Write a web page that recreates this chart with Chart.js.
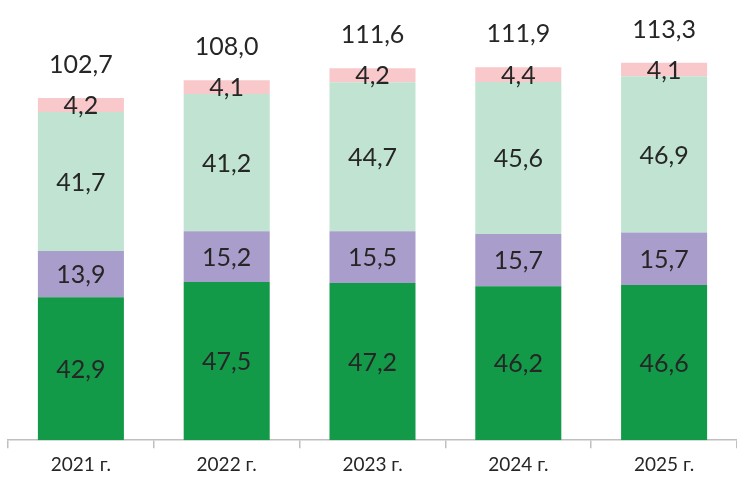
<!DOCTYPE html>
<html>
<head>
<meta charset="utf-8">
<script src="https://cdn.jsdelivr.net/npm/chart.js@4"></script>
<style>
  html, body { margin: 0; padding: 0; background: #fff; }
  #wrap { width: 737px; height: 481px; }
</style>
</head>
<body>
<div id="wrap"><canvas id="myChartBar"></canvas></div>
<script>
const years = ['2021 г.', '2022 г.', '2023 г.', '2024 г.', '2025 г.'];
const seriesA = [42.9, 47.5, 47.2, 46.2, 46.6]; // dark green
const seriesB = [13.9, 15.2, 15.5, 15.7, 15.7]; // purple
const seriesC = [41.7, 41.2, 44.7, 45.6, 46.9]; // light green
const seriesD = [4.2, 4.1, 4.2, 4.4, 4.1];      // pink
const totals = [102.7, 108.0, 111.6, 111.9, 113.3];

const fmt = v => v.toFixed(1).replace('.', ',');
const FONT = 'Lato, "Open Sans", sans-serif';

// draws the values inside the segments and the totals on top
const labelsPlugin = {
    id: 'labels',
    afterDatasetsDraw(chart) {
        const ctx = chart.ctx;
        ctx.save();
        ctx.fillStyle = '#262626';
        ctx.font = '25px ' + FONT;
        ctx.textAlign = 'center';
        ctx.textBaseline = 'middle';
        chart.data.datasets.forEach((ds, i) => {
            chart.getDatasetMeta(i).data.forEach((bar, j) => {
                const mid = (bar.y + bar.base) / 2;
                ctx.fillText(fmt(ds.data[j]), bar.x, mid + 1);
            });
        });
        const top = chart.getDatasetMeta(chart.data.datasets.length - 1).data;
        top.forEach((bar, j) => {
            ctx.fillText(fmt(totals[j]), bar.x, bar.y - 33);
        });
        ctx.restore();
    }
};

const ctx = document.getElementById('myChartBar').getContext('2d');
new Chart(ctx, {
    type: 'bar',
    data: {
        labels: years,
        datasets: [
            { data: seriesA, backgroundColor: '#139a48' },
            { data: seriesB, backgroundColor: '#a99dcb' },
            { data: seriesC, backgroundColor: '#c0e3d2' },
            { data: seriesD, backgroundColor: '#f8c8ca' }
        ]
    },
    options: {
        responsive: true,
        maintainAspectRatio: false,
        animation: false,
        layout: { padding: { left: 8, right: 0, top: 7, bottom: 0 } },
        datasets: {
            bar: { categoryPercentage: 1, barPercentage: 0.59, borderWidth: 0 }
        },
        scales: {
            x: {
                stacked: true,
                grid: {
                    offset: true,
                    drawOnChartArea: false,
                    tickLength: 8,
                    color: '#bfbfbf',
                    lineWidth: 1.5
                },
                border: { color: '#bfbfbf', width: 1.5 },
                ticks: {
                    color: '#262626',
                    font: { family: FONT, size: 19 },
                    padding: 5
                }
            },
            y: {
                stacked: true,
                display: false,
                min: 0,
                max: 130
            }
        },
        plugins: {
            legend: { display: false },
            tooltip: { enabled: false }
        }
    },
    plugins: [labelsPlugin]
});
</script>
</body>
</html>
